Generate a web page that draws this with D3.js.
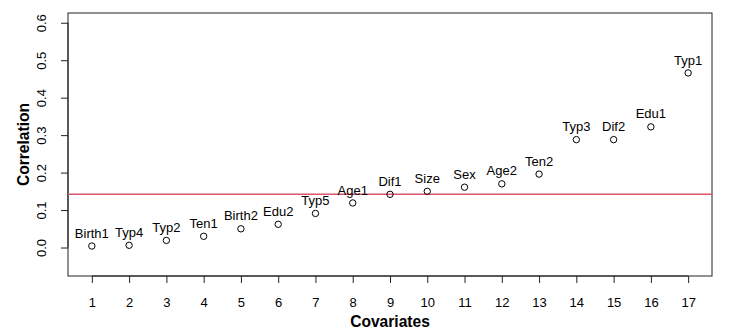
<!DOCTYPE html>
<html><head><meta charset="utf-8">
<script src="https://cdn.jsdelivr.net/npm/d3@7"></script>
<style>body{margin:0;background:#fff}svg{display:block}text{font-family:"Liberation Sans",Arial,sans-serif}</style>
</head><body><svg id="c" width="747" height="336"></svg>
<script>
const labels = ["Birth1","Typ4","Typ2","Ten1","Birth2","Edu2","Typ5","Age1","Dif1","Size","Sex","Age2","Ten2","Typ3","Dif2","Edu1","Typ1"];
const xIndex = [1,2,3,4,5,6,7,8,9,10,11,12,13,14,15,16,17];
const correlation = [0.004,0.006,0.019,0.030,0.050,0.062,0.091,0.119,0.142,0.150,0.161,0.170,0.196,0.288,0.288,0.322,0.466];
const threshold = 0.1424;
const yTicks = [0.0,0.1,0.2,0.3,0.4,0.5,0.6];

const svg = d3.select("#c");
const L=68, R=712, T=13, B=276;
const x = d3.scaleLinear().domain([0.36,17.64]).range([L,R]);
const y = d3.scaleLinear().domain([-0.076,0.626]).range([B,T]);
const ink="#222";

// box
svg.append("rect").attr("x",L).attr("y",T).attr("width",R-L).attr("height",B-T)
  .attr("fill","none").attr("stroke",ink).attr("stroke-width",1);

// x axis
const xa = svg.append("g").attr("transform",`translate(0,${B})`)
  .call(d3.axisBottom(x).tickValues(xIndex).tickSize(7).tickPadding(0).tickFormat(d3.format("d")));
xa.select(".domain").attr("stroke",ink).attr("d",`M${x(1)},0H${x(17)}`);
xa.selectAll(".tick line").attr("stroke",ink);
xa.selectAll(".tick text").attr("y",30.5).attr("dy",null).attr("font-size",13).attr("fill","#000");

// y axis
const ya = svg.append("g").attr("transform",`translate(${L},0)`)
  .call(d3.axisLeft(y).tickValues(yTicks).tickSize(7).tickFormat(d3.format(".1f")));
ya.select(".domain").attr("stroke",ink).attr("d",`M0,${y(0)}V${y(0.6)}`);
ya.selectAll(".tick line").attr("stroke",ink);
ya.selectAll(".tick text").attr("x",null).attr("dy",null)
  .attr("transform","translate(-22,0) rotate(-90)").attr("text-anchor","middle")
  .attr("font-size",13).attr("fill","#000");

// threshold line
svg.append("line").attr("x1",L).attr("x2",R).attr("y1",y(threshold)).attr("y2",y(threshold))
  .attr("stroke","#DF536B").attr("stroke-width",1.6);

// points
svg.append("g").selectAll("circle").data(correlation).join("circle")
  .attr("cx",(d,i)=>x(xIndex[i])).attr("cy",d=>y(d)).attr("r",3.2)
  .attr("fill","none").attr("stroke","#000").attr("stroke-width",1);

// labels
svg.append("g").selectAll("text").data(correlation).join("text")
  .attr("x",(d,i)=>x(xIndex[i])).attr("y",d=>y(d)-8.4)
  .attr("text-anchor","middle").attr("font-size",13).text((d,i)=>labels[i]);

// axis titles
svg.append("text").attr("x",(L+R)/2).attr("y",326.5).attr("text-anchor","middle")
  .attr("font-size",15.6).attr("font-weight","bold").text("Covariates");
svg.append("text").attr("transform",`translate(29,${(T+B)/2}) rotate(-90)`).attr("text-anchor","middle")
  .attr("font-size",15.6).attr("font-weight","bold").text("Correlation");
</script></body></html>
